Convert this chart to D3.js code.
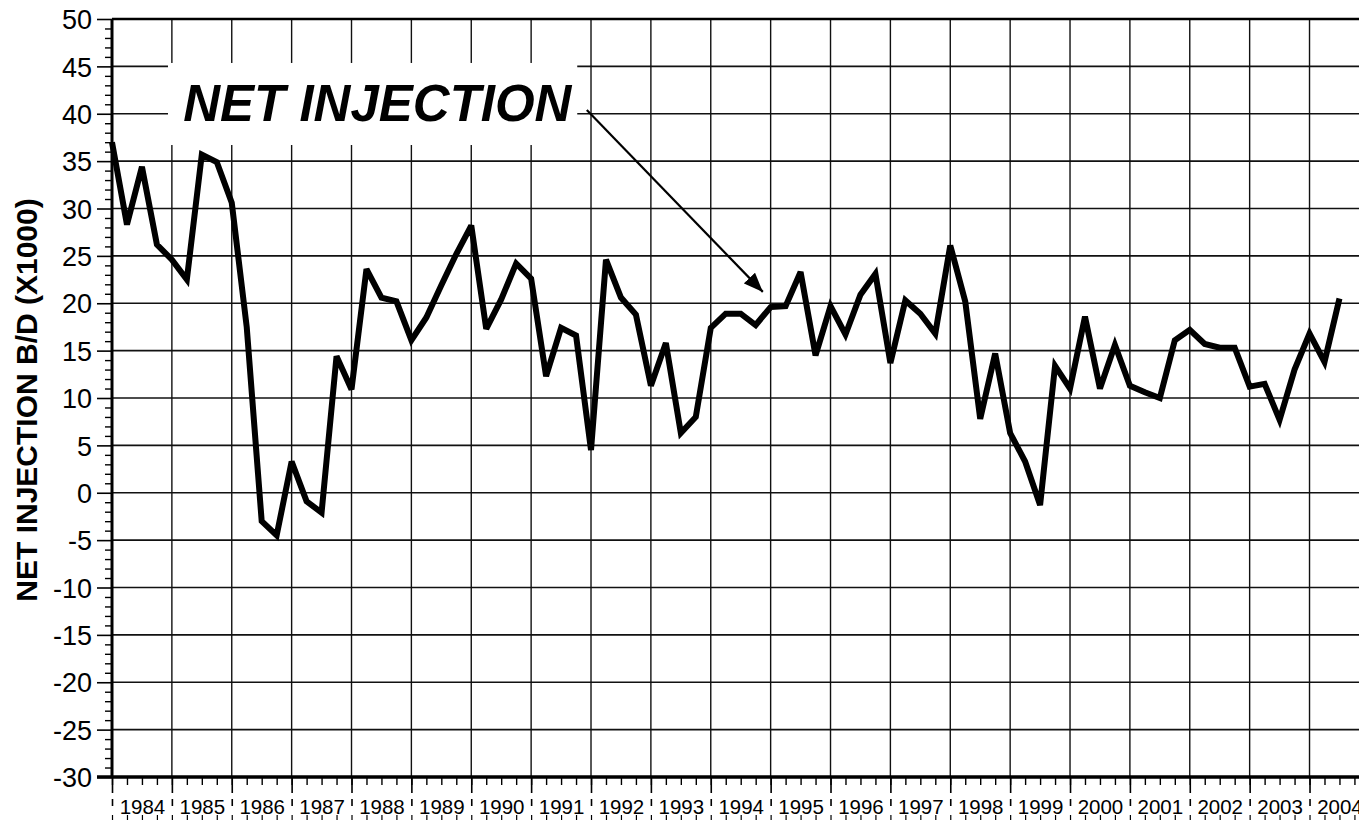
<!DOCTYPE html>
<html>
<head>
<meta charset="utf-8">
<script src="https://cdn.jsdelivr.net/npm/d3@7"></script>
<style>
  body { margin: 0; background: #fff; }
  svg { display: block; font-family: "Liberation Sans", Arial, sans-serif; }
  .axis path { display: none; }
  .axis line { stroke: #000; }
  .axis text { fill: #000; }
</style>
</head>
<body>
<div class="chart"></div>
<script>
// quarterly net injection, thousands of barrels per day, 1984 Q1 onward
var startYear = 1984
var values = [
  37.0, 28.3, 34.4, 26.2,   24.6, 22.5, 35.7, 34.9,
  30.6, 17.5, -3.0, -4.5,   3.3, -0.9, -2.1, 14.4,
  10.9, 23.6, 20.6, 20.2,   16.1, 18.5, 21.9, 25.2,
  28.2, 17.3, 20.4, 24.2,   22.6, 12.3, 17.4, 16.6,
  4.5, 24.6, 20.6, 18.8,    11.3, 15.8, 6.3, 8.0,
  17.4, 18.9, 18.9, 17.7,   19.6, 19.7, 23.3, 14.5,
  19.7, 16.7, 20.9, 23.1,   13.7, 20.3, 18.9, 16.8,
  26.1, 20.2, 7.8, 14.7,    6.3, 3.3, -1.3, 13.4,
  11.0, 18.6, 11.0, 15.6,   11.3, 10.6, 10.0, 16.1,
  17.2, 15.7, 15.3, 15.3,   11.2, 11.5, 7.7, 13.0,
  16.8, 13.8, 20.5
]
var yearLabels = ['1984','1985','1986','1987','1988','1989','1990','1991','1992','1993',
  '1994','1995','1996','1997','1998','1999','2000','2001','2002','2003','2004']
var yTicks = [-30,-25,-20,-15,-10,-5,0,5,10,15,20,25,30,35,40,45,50]
var titleText = 'NET INJECTION'
var yTitle = 'NET INJECTION B/D (X1000)'

var W = 1359, H = 820
var plot = {left: 112, right: 1369.4, top: 19, bottom: 777}

var x = d3.scaleLinear()
          .domain([startYear, startYear + yearLabels.length])
          .range([plot.left, plot.right])

var y = d3.scaleLinear()
          .domain([-30, 50])
          .range([plot.bottom, plot.top])

var svg = d3.select('.chart')
            .append('svg')
            .attr('width', W)
            .attr('height', H)

// grid
var yearBounds = d3.range(startYear, startYear + yearLabels.length + 1)
var grid = svg.append('g').attr('class','grid')

grid.selectAll('.vgrid')
    .data(yearBounds.slice(1))
    .enter()
    .append('line')
    .attr('x1', function(d){ return x(d) })
    .attr('x2', function(d){ return x(d) })
    .attr('y1', y(50))
    .attr('y2', y(-30))
    .style('stroke','#111')
    .style('stroke-width',1.4)

grid.selectAll('.hgrid')
    .data(yTicks.filter(function(d){ return d > -30 && d < 50 }))
    .enter()
    .append('line')
    .attr('x1', plot.left)
    .attr('x2', W)
    .attr('y1', function(d){ return y(d) })
    .attr('y2', function(d){ return y(d) })
    .style('stroke','#111')
    .style('stroke-width',1.6)

// white label box over the grid
var note = {x0: 1984.935, x1: 1991.77, y0: 45.36, y1: 36.7, tx: 1985.19, ty: 39.2,
            ax0: 1991.93, ay0: 40.4, ax1: 1994.87, ay1: 21.2}

svg.append('rect')
   .attr('x', x(note.x0))
   .attr('y', y(note.y0))
   .attr('width', x(note.x1) - x(note.x0))
   .attr('height', y(note.y1) - y(note.y0))
   .style('fill','#fff')

svg.append('text')
   .attr('x', x(note.tx))
   .attr('y', y(note.ty))
   .style('font-size','51px')
   .style('font-weight','bold')
   .style('font-style','italic')
   .style('fill','#000')
   .text(titleText)

svg.append('defs')
   .append('marker')
   .attr('id','arrow')
   .attr('viewBox','0 0 10 8')
   .attr('refX',10)
   .attr('refY',4)
   .attr('markerWidth',9)
   .attr('markerHeight',7)
   .attr('markerUnits','strokeWidth')
   .attr('orient','auto')
   .append('path')
   .attr('d','M0,0 L10,4 L0,8 z')
   .style('fill','#000')

svg.append('line')
   .attr('x1', x(note.ax0))
   .attr('y1', y(note.ay0))
   .attr('x2', x(note.ax1))
   .attr('y2', y(note.ay1))
   .style('stroke','#000')
   .style('stroke-width',2.2)
   .attr('marker-end','url(#arrow)')

// y axis: major ticks with labels, minor ticks every unit
var yMajor = d3.axisLeft(y)
               .tickValues(yTicks)
               .tickSize(15)
               .tickPadding(5)
               .tickFormat(function(d){ return String(d) })

svg.append('g')
   .attr('class','axis')
   .attr('transform','translate('+plot.left+',0)')
   .call(yMajor)
   .call(function(g){
      g.selectAll('line').style('stroke-width',1.6)
      g.selectAll('text').style('font-size','27px').attr('dy','0.36em')
   })

var yMinor = d3.axisLeft(y)
               .tickValues(d3.range(-30, 51).filter(function(d){ return d % 5 != 0 }))
               .tickSize(7)
               .tickFormat('')

svg.append('g')
   .attr('class','axis')
   .attr('transform','translate('+plot.left+',0)')
   .call(yMinor)
   .selectAll('line').style('stroke-width',1.4)

// x axis: quarter ticks, year ticks and year labels
var quarters = d3.range(0, yearLabels.length * 4 + 1).map(function(q){ return startYear + q / 4 })

var xQuarter = d3.axisBottom(x).tickValues(quarters).tickSize(8).tickFormat('')
svg.append('g')
   .attr('class','axis')
   .attr('transform','translate(0,'+plot.bottom+')')
   .call(xQuarter)
   .selectAll('line').style('stroke-width',1.4)

var xYear = d3.axisBottom(x).tickValues(yearBounds).tickSize(16).tickFormat('')
svg.append('g')
   .attr('class','axis')
   .attr('transform','translate(0,'+plot.bottom+')')
   .call(xYear)
   .selectAll('line').style('stroke-width',1.6)

svg.append('g')
   .attr('class','axis')
   .attr('transform','translate(0,'+(plot.bottom + 22)+')')
   .call(d3.axisBottom(x).tickValues(yearBounds).tickSize(7).tickFormat(''))
   .selectAll('line').style('stroke-width',1.6)

svg.append('g')
   .attr('class','axis')
   .attr('transform','translate(0,'+(plot.bottom + 38)+')')
   .call(d3.axisBottom(x).tickValues(quarters).tickSize(6).tickFormat(''))
   .selectAll('line').style('stroke-width',1.2)

var xLabels = d3.axisBottom(x)
                .tickValues(yearLabels.map(function(d){ return +d + 0.5 }))
                .tickSize(0)
                .tickPadding(0)
                .tickFormat(function(d){ return String(Math.floor(d)) })

svg.append('g')
   .attr('class','axis')
   .attr('transform','translate(0,'+(plot.bottom + 37)+')')
   .call(xLabels)
   .selectAll('text')
   .attr('y',0)
   .attr('dy',0)
   .style('font-size','20.5px')

// frame
svg.append('line')
   .attr('x1', plot.left).attr('x2', W)
   .attr('y1', plot.top).attr('y2', plot.top)
   .style('stroke','#000').style('stroke-width',2.5)

svg.append('line')
   .attr('x1', plot.left).attr('x2', plot.left)
   .attr('y1', plot.top).attr('y2', plot.bottom)
   .style('stroke','#000').style('stroke-width',3)

svg.append('line')
   .attr('x1', plot.left - 15).attr('x2', W)
   .attr('y1', plot.bottom).attr('y2', plot.bottom)
   .style('stroke','#000').style('stroke-width',3.5)

// the series
var line = d3.line()
             .x(function(d,i){ return x(startYear + i / 4) })
             .y(function(d){ return y(d) })

svg.append('path')
   .datum(values)
   .attr('d', line)
   .style('fill','none')
   .style('stroke','#000')
   .style('stroke-width',6)
   .style('stroke-linejoin','miter')
   .style('stroke-miterlimit',3)

// y axis title
svg.append('text')
   .attr('transform','translate(37,'+((plot.top + plot.bottom) / 2 + 2)+') rotate(-90)')
   .attr('text-anchor','middle')
   .style('font-size','30px')
   .style('font-weight','bold')
   .style('fill','#000')
   .text(yTitle)
</script>
</body>
</html>
